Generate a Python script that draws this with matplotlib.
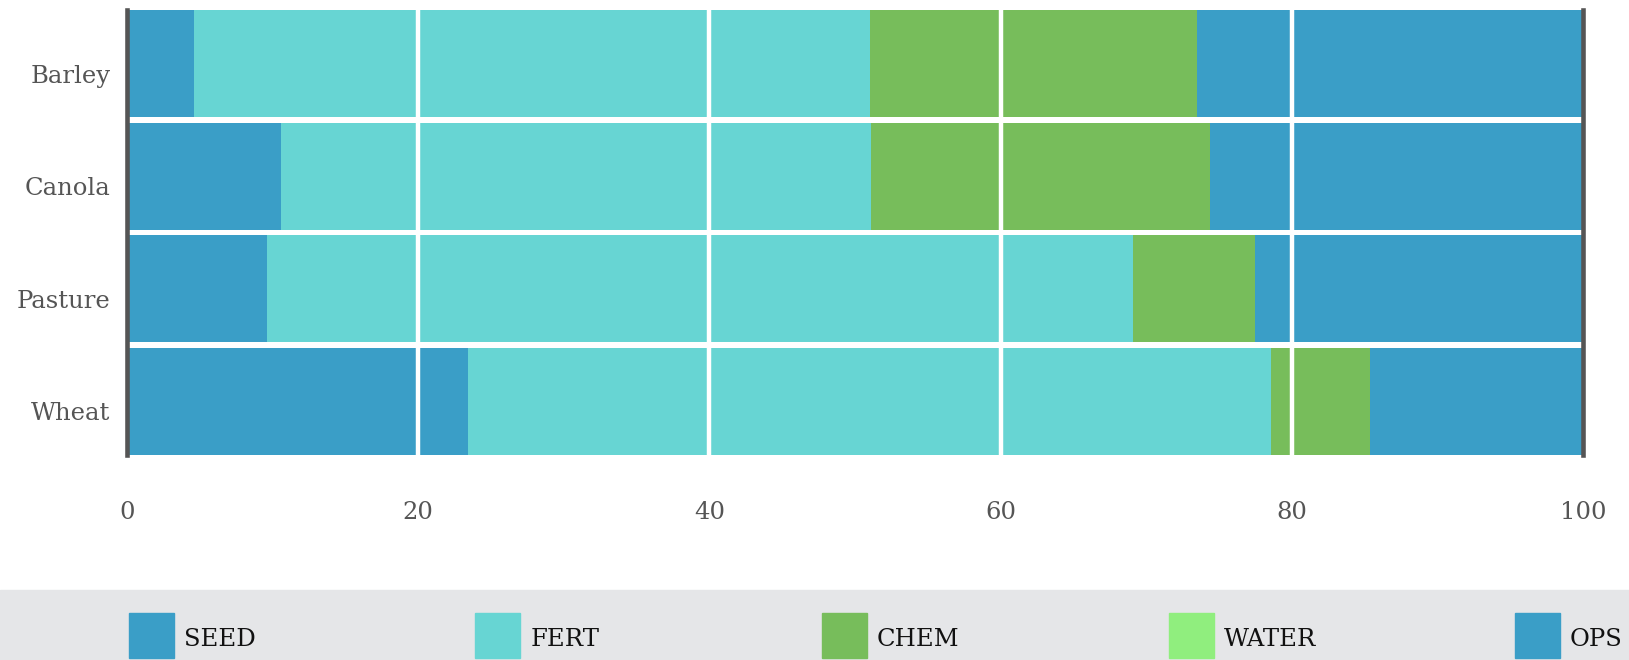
import matplotlib.pyplot as plt
import matplotlib.transforms as mtransforms
from matplotlib.patches import Rectangle

crops = ["Barley", "Canola", "Pasture", "Wheat"]
series = ["SEED", "FERT", "CHEM", "WATER", "OPS"]
seed = [4.6, 10.6, 9.6, 23.4]
fert = [46.4, 40.5, 59.5, 55.2]
chem = [22.5, 23.3, 8.4, 6.8]
water = [0, 0, 0, 0]
ops = [26.5, 25.6, 22.5, 14.6]
ticks = [0, 20, 40, 60, 80, 100]

colors = ["#3a9ec7", "#67d5d3", "#77bd5b", "#90ee7e", "#3a9ec7"]
values = [seed, fert, chem, water, ops]

W, H = 1629, 660
fig = plt.figure(figsize=(W / 100, H / 100), dpi=100)
ax = fig.add_axes([127 / W, 1 - 455 / H, (1583 - 127) / W, (455 - 10) / H])

bar_h = 0.955
ypos = list(range(len(crops)))
left = [0] * len(crops)
for name, vals, c in zip(series, values, colors):
    ax.barh(ypos, vals, left=left, height=bar_h, color=c, label=name, zorder=1)
    left = [a + b for a, b in zip(left, vals)]

ax.set_xlim(0, 100)
ax.set_ylim(len(crops) - 1 + bar_h / 2, -bar_h / 2)
ax.set_yticks(ypos)
ax.set_yticklabels(crops, family="DejaVu Serif", fontsize=17.5, color="#555555")
ax.set_xticks(ticks)
ax.set_xticklabels([str(t) for t in ticks], family="DejaVu Serif", fontsize=17.5, color="#555555")
ax.tick_params(length=0)
ax.tick_params(axis="x", pad=33)
ax.tick_params(axis="y", pad=12)

# labels sit a bit below the bar centres in the original
shift = mtransforms.ScaledTranslation(0, -10 / 100, fig.dpi_scale_trans)
for lab in ax.get_yticklabels():
    lab.set_transform(lab.get_transform() + shift)

for t in ticks[1:-1]:
    ax.axvline(t, color="white", lw=3.2, zorder=3)
for t in (0, 100):
    ax.axvline(t, color="#555555", lw=3.3, zorder=4, clip_on=False)
for s in ax.spines.values():
    s.set_visible(False)

# legend band
fig.patches.append(Rectangle((0, 0), 1, 70 / H, transform=fig.transFigure,
                             color="#e5e6e8", zorder=0))
for i, (name, c) in enumerate(zip(series, colors)):
    x0 = 129 + i * 346.5
    fig.patches.append(Rectangle((x0 / W, 2 / H), 45 / W, 45 / H,
                                 transform=fig.transFigure, color=c, zorder=1))
    fig.text((x0 + 55) / W, 21 / H, name, family="DejaVu Serif", fontsize=17.5,
             color="#111111", va="center", ha="left")

fig.savefig("out.png", dpi=100)
